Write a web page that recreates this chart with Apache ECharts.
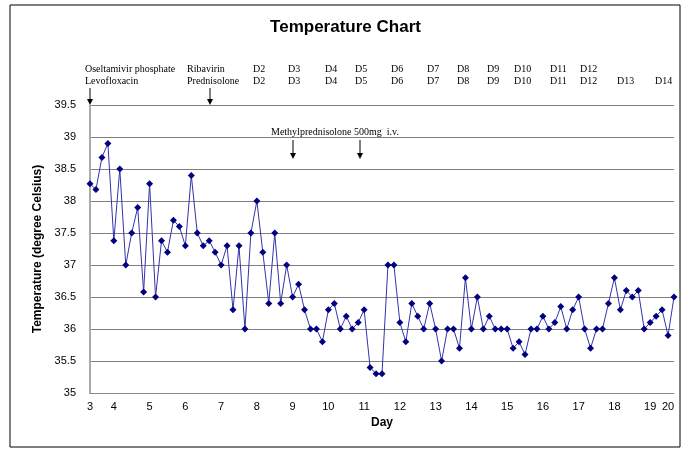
<!DOCTYPE html>
<html><head><meta charset="utf-8">
<script src="https://cdn.jsdelivr.net/npm/echarts@6/dist/echarts.min.js"></script>
<style>html,body{margin:0;padding:0;background:#fff}#c{width:691px;height:455px}</style>
</head><body><div id="c"></div>
<script>
'use strict';
// Temperature readings, one per reading in order
const temps = [
  38.27, 38.18, 38.68, 38.9, 37.38, 38.5, 37.0, 37.5, 37.9, 36.58,
  38.27, 36.5, 37.38, 37.2, 37.7, 37.6, 37.3, 38.4, 37.5, 37.3,
  37.38, 37.2, 37.0, 37.3, 36.3, 37.3, 36.0, 37.5, 38.0, 37.2,
  36.4, 37.5, 36.4, 37.0, 36.5, 36.7, 36.3, 36.0, 36.0, 35.8,
  36.3, 36.4, 36.0, 36.2, 36.0, 36.1, 36.3, 35.4,
  35.3, 35.3, 37.0, 37.0, 36.1, 35.8, 36.4, 36.2, 36.0, 36.4,
  36.0, 35.5, 36.0, 36.0, 35.7, 36.8, 36.0, 36.5, 36.0, 36.2,
  36.0, 36.0, 36.0, 35.7, 35.8, 35.6, 36.0, 36.0, 36.2, 36.0,
  36.1, 36.35, 36.0, 36.3, 36.5, 36.0, 35.7, 36.0, 36.0, 36.4,
  36.8, 36.3, 36.6, 36.5, 36.6, 36.0, 36.1, 36.2, 36.3, 35.9, 36.5
];
// Day tick labels and the reading index they sit at
const dayLabels = ['3', '4', '5', '6', '7', '8', '9', '10', '11', '12', '13', '14', '15', '16', '17', '18', '19', '20'];
const dayIndex = [0, 4, 10, 16, 22, 28, 34, 40, 46, 52, 58, 64, 70, 76, 82, 88, 94, 97];
const yTicks = [35, 35.5, 36, 36.5, 37, 37.5, 38, 38.5, 39, 39.5];

const categories = temps.map(function (v, i) {
  const k = dayIndex.indexOf(i);
  return k >= 0 ? dayLabels[k] : '';
});

// annotation rows at top
const row1 = [['Oseltamivir phosphate', 85], ['Ribavirin', 187], ['D2', 253], ['D3', 288], ['D4', 325], ['D5', 355], ['D6', 391], ['D7', 427], ['D8', 457], ['D9', 487], ['D10', 514], ['D11', 550], ['D12', 580]];
const row2 = [['Levofloxacin', 85], ['Prednisolone', 187], ['D2', 253], ['D3', 288], ['D4', 325], ['D5', 355], ['D6', 391], ['D7', 427], ['D8', 457], ['D9', 487], ['D10', 514], ['D11', 550], ['D12', 580], ['D13', 617], ['D14', 655]];

const serif = '"Liberation Serif", "DejaVu Serif", serif';
const graphics = [
  { type: 'rect', shape: { x: 10, y: 5, width: 670, height: 442 }, style: { fill: 'none', stroke: '#000', lineWidth: 1 } }
];
row1.forEach(function (t) {
  graphics.push({ type: 'text', x: t[1], y: 64, style: { text: t[0], font: '10px ' + serif, fill: '#000' } });
});
row2.forEach(function (t) {
  graphics.push({ type: 'text', x: t[1], y: 76, style: { text: t[0], font: '10px ' + serif, fill: '#000' } });
});
graphics.push({ type: 'text', x: 271, y: 127, style: { text: 'Methylprednisolone 500mg  i.v.', font: '10px ' + serif, fill: '#000' } });
function arrow(x, y1, y2) {
  graphics.push({ type: 'line', shape: { x1: x, y1: y1, x2: x, y2: y2 - 4 }, style: { stroke: '#000', lineWidth: 1 } });
  graphics.push({ type: 'polygon', shape: { points: [[x - 3, y2 - 6], [x + 3, y2 - 6], [x, y2]] }, style: { fill: '#000' } });
}
arrow(90, 88, 105);
arrow(210, 88, 105);
arrow(293, 140, 159);
arrow(360, 140, 159);

const chart = echarts.init(document.getElementById('c'));
chart.setOption({
  animation: false,
  title: {
    text: 'Temperature Chart', left: 'center', top: 14,
    textStyle: { fontFamily: 'Arial, "Liberation Sans"', fontSize: 17, fontWeight: 'bold', color: '#000' }
  },
  grid: { left: 90, right: 17, top: 105, bottom: 62 },
  xAxis: {
    type: 'category', data: categories, boundaryGap: false,
    name: 'Day', nameLocation: 'middle', nameGap: 24,
    nameTextStyle: { fontFamily: 'Arial, "Liberation Sans"', fontSize: 12, fontWeight: 'bold', color: '#000' },
    axisLine: { lineStyle: { color: '#888' } },
    axisTick: { show: false },
    axisLabel: {
      interval: function (i) { return dayIndex.indexOf(i) >= 0; },
      fontFamily: 'Arial, "Liberation Sans"', fontSize: 11, color: '#000', margin: 8
    }
  },
  yAxis: {
    type: 'value', min: yTicks[0], max: yTicks[yTicks.length - 1], interval: 0.5,
    name: 'Temperature (degree Celsius)', nameLocation: 'middle', nameGap: 46,
    nameTextStyle: { fontFamily: 'Arial, "Liberation Sans"', fontSize: 12, fontWeight: 'bold', color: '#000' },
    axisLine: { show: true, lineStyle: { color: '#aaa', width: 2 } },
    axisTick: { show: false },
    splitLine: { lineStyle: { color: '#808080' } },
    axisLabel: { fontFamily: 'Arial, "Liberation Sans"', fontSize: 11, color: '#000', margin: 14 }
  },
  series: [{
    type: 'line', data: temps,
    symbol: 'diamond', symbolSize: 7, showAllSymbol: true,
    lineStyle: { color: '#3333aa', width: 1 },
    itemStyle: { color: '#000080' }
  }],
  graphic: graphics
});
</script></body></html>
